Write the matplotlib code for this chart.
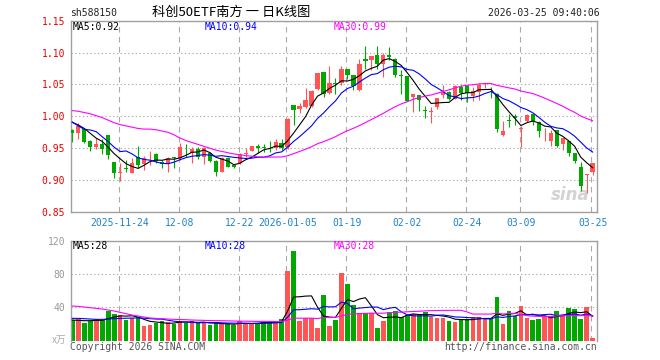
import numpy as np
import pandas as pd
import matplotlib
matplotlib.use('Agg')
import matplotlib.pyplot as plt

# ---------------- data ----------------
opens = [0.979, 0.9745, 0.980, 0.9615, 0.9516, 0.9568, 0.9708, 0.9286, 0.9104, 0.9193,
         0.9114, 0.937, 0.9245, 0.9406, 0.941, 0.9286, 0.925, 0.936, 0.9343, 0.951,
         0.9422, 0.949, 0.936, 0.942, 0.930, 0.9135, 0.9354, 0.924, 0.9266, 0.941,
         0.9463, 0.953, 0.9516, 0.9526, 0.950, 0.9578, 0.9526, 1.0172, 1.0115, 1.015,
         1.0167, 1.0422, 1.0688, 1.037, 1.0516, 1.0516, 1.074, 1.0646, 1.0412, 1.0906,
         1.0878, 1.0958, 1.0828, 1.0958, 1.0906, 1.0646, 1.063, 1.0297, 1.0333, 1.010,
         1.007, 1.014, 1.0338, 1.0385, 1.0271, 1.0464, 1.0474, 1.0318, 1.0386, 1.0485,
         1.038, 1.035, 0.9708, 0.9945, 1.0005, 0.980, 0.9927, 1.0036, 0.9917, 0.9718,
         0.962, 0.9786, 0.9568, 0.9615, 0.9422, 0.9213, 0.9083, 0.912]
highs = [0.980, 0.989, 0.981, 0.963, 0.9667, 0.964, 0.971, 0.929, 0.9265, 0.9317,
         0.934, 0.9536, 0.938, 0.9463, 0.942, 0.9317, 0.936, 0.937, 0.9589, 0.9568,
         0.9516, 0.9516, 0.9516, 0.9448, 0.931, 0.937, 0.936, 0.925, 0.942, 0.950,
         0.954, 0.9573, 0.9573, 0.9615, 0.9646, 0.9646, 0.997, 1.0172, 1.0203, 1.0448,
         1.041, 1.0682, 1.069, 1.0787, 1.0594, 1.0787, 1.0745, 1.065, 1.0896, 1.110,
         1.095, 1.110, 1.0995, 1.108, 1.092, 1.0724, 1.064, 1.035, 1.034, 1.016,
         1.015, 1.029, 1.0495, 1.039, 1.049, 1.049, 1.049, 1.0453, 1.0526, 1.0516,
         1.0464, 1.036, 0.9927, 1.0036, 1.0036, 0.9849, 1.003, 1.004, 0.993, 0.9812,
         0.9786, 0.979, 0.966, 0.962, 0.943, 0.928, 0.910, 0.927]
lows = [0.959, 0.9646, 0.9588, 0.9463, 0.949, 0.941, 0.9333, 0.9026, 0.898, 0.9135,
        0.9109, 0.919, 0.916, 0.924, 0.9276, 0.9187, 0.9125, 0.919, 0.9317, 0.937,
        0.927, 0.9333, 0.9255, 0.929, 0.9057, 0.9125, 0.9198, 0.9187, 0.925, 0.937,
        0.9458, 0.9432, 0.9437, 0.9448, 0.9474, 0.9474, 0.949, 0.9865, 1.006, 1.0125,
        1.0146, 1.0412, 1.0307, 1.035, 1.035, 1.049, 1.0578, 1.0412, 1.040, 1.0745,
        1.0734, 1.075, 1.061, 1.088, 1.061, 1.035, 1.024, 1.0073, 1.0083, 0.997,
        0.990, 1.012, 1.0286, 1.0255, 1.0266, 1.0255, 1.023, 1.0245, 1.0255, 1.0437,
        1.028, 0.976, 0.9693, 0.9838, 0.9865, 0.9515, 0.9917, 0.9865, 0.9682, 0.9614,
        0.954, 0.9526, 0.948, 0.938, 0.9265, 0.8823, 0.8797, 0.908]
closes = [0.974, 0.985, 0.9604, 0.9526, 0.9568, 0.9484, 0.939, 0.9104, 0.9125, 0.918,
          0.927, 0.924, 0.9354, 0.9411, 0.930, 0.925, 0.934, 0.934, 0.9515, 0.950,
          0.949, 0.936, 0.950, 0.9307, 0.9135, 0.9344, 0.9213, 0.9213, 0.9411, 0.942,
          0.9536, 0.951, 0.950, 0.9518, 0.9604, 0.950, 0.9964, 1.010, 1.0162, 1.0255,
          1.0396, 1.0672, 1.0344, 1.0526, 1.0505, 1.074, 1.0656, 1.0474, 1.0818, 1.087,
          1.0948, 1.0818, 1.0958, 1.0932, 1.0646, 1.064, 1.0245, 1.0349, 1.0255, 1.009,
          1.0073, 1.028, 1.0385, 1.0271, 1.0474, 1.036, 1.036, 1.0401, 1.049, 1.049,
          1.0375, 0.9797, 0.9771, 0.993, 0.997, 0.981, 1.002, 0.9906, 0.9776, 0.972,
          0.9745, 0.9536, 0.9656, 0.9422, 0.9292, 0.890, 0.9094, 0.9265]
volumes = [24.8, 25.6, 21.6, 24.0, 26.0, 24.8, 35.6, 31.6, 30.8, 24.8,
           26.8, 28.0, 17.6, 18.8, 20.8, 23.6, 22.8, 20.0, 24.0, 21.6,
           23.6, 20.8, 21.6, 18.8, 20.8, 20.8, 19.6, 18.8, 23.6, 20.8,
           20.8, 20.8, 22.8, 22.8, 22.8, 25.6, 83.6, 107.6, 24.0, 26.8,
           26.8, 15.6, 54.8, 17.6, 24.8, 81.6, 68.0, 42.8, 32.8, 32.8,
           32.8, 15.6, 24.0, 34.8, 35.6, 28.0, 30.8, 31.6, 30.8, 34.8,
           28.0, 26.8, 27.6, 24.0, 22.8, 25.6, 25.6, 28.8, 28.0, 25.6,
           25.6, 52.8, 20.0, 35.6, 29.6, 41.6, 27.6, 24.8, 26.0, 29.6,
           29.6, 35.6, 29.6, 39.6, 37.6, 26.0, 40.8, 3.6]

# moving-average values before enough history exists in the window
price_ma5_head = [0.9906, 0.9865, 0.981, 0.9734]
price_ma10_head = [0.991, 0.985, 0.9797, 0.9786, 0.976, 0.968, 0.9604, 0.9516, 0.9448]
price_ma30_head = [1.009, 1.008, 1.006, 1.004, 1.001, 0.998, 0.994, 0.990, 0.987, 0.985,
                   0.983, 0.981, 0.980, 0.980, 0.979, 0.977, 0.975, 0.971, 0.966, 0.962,
                   0.959, 0.956, 0.953, 0.950, 0.947, 0.945, 0.943, 0.941, 0.940]
vol_ma5_head = [24.8, 24.4, 24.0, 24.0]
vol_ma10_head = [26.8, 26.8, 26.4, 26.0, 25.6, 25.6, 26.0, 26.4, 26.8]
vol_ma30_head = [41.6, 41.2, 40.4, 39.6, 38.8, 38.0, 36.8, 35.6, 34.0, 32.4,
                 30.8, 29.6, 28.4, 27.2, 26.8, 26.4, 26.0, 25.6, 25.4, 25.2,
                 24.8, 24.6, 24.4, 24.2, 24.0, 24.0, 23.8, 23.6, 23.5]

tick_idx = [8, 18, 28, 36, 46, 56, 66, 75, 87]
tick_labels = ['2025-11-24', '12-08', '12-22', '2026-01-05', '01-19', '02-02',
               '02-24', '03-09', '03-25']
price_ticks = [0.85, 0.90, 0.95, 1.00, 1.05, 1.10, 1.15]
vol_ticks = [40, 80, 120]

symbol = 'sh588150'
title = '科创50ETF南方 一 日K线图'
timestamp = '2026-03-25 09:40:06'
price_ma_labels = ['MA5:0.92', 'MA10:0.94', 'MA30:0.99']
vol_ma_labels = ['MA5:28', 'MA10:28', 'MA30:28']

# ---------------- helpers ----------------
def moving(series, n, head):
    s = pd.Series(series).rolling(n).mean().to_numpy()
    s[:len(head)] = head
    return s

RED = '#ff5555'
GREEN = '#00a800'
GRID = '#aaaaaa'
FRAME = '#a0a0a0'
MA_COLORS = ['black', '#0000ff', '#ff00ff']
MONO = 'DejaVu Sans Mono'

W, H = 660, 360
fig = plt.figure(figsize=(W / 100, H / 100), dpi=100)
fig.patch.set_facecolor('white')

def fx(px):
    return px / W

def fy(py):
    return 1 - py / H

left, right = 70.7, 597.0
ax = fig.add_axes([fx(left), fy(212.0), fx(right - left), fy(20.7) - fy(212.0)])
axv = fig.add_axes([fx(left), fy(340.7), fx(right - left), fy(240.7) - fy(340.7)])

n = len(closes)
x = np.arange(n)
o = np.array(opens); c = np.array(closes); h = np.array(highs); l = np.array(lows)
up = c > o
colors = np.where(up, RED, GREEN)

xlim = (-0.27, n - 0.27)

# ---------- price panel ----------
for yv in price_ticks[1:-1]:
    ax.axhline(yv, color=GRID, lw=0.8, ls=(0, (1.2, 2.2)), zorder=0)
for t in tick_idx:
    ax.axvline(t - 0.2, color=GRID, lw=0.8, ls=(0, (5, 4)), zorder=0)

ax.vlines(x, l, h, colors=colors, lw=0.8, zorder=2)
body_h = np.maximum(np.abs(c - o), 0.0009)
ax.bar(x, body_h, bottom=np.minimum(o, c), width=0.72, color=colors, linewidth=0, zorder=3)

ma_sets = [(5, price_ma5_head), (10, price_ma10_head), (30, price_ma30_head)]
for (win, head), col in zip(ma_sets, MA_COLORS):
    ax.plot(x, moving(closes, win, head), color=col, lw=0.8, zorder=4)

ax.set_xlim(*xlim)
ax.set_ylim(0.85, 1.15)
ax.set_yticks(price_ticks)
ax.set_yticklabels([f'{v:.2f}' for v in price_ticks], color='#ee0000',
                   fontfamily=MONO, fontsize=7)
ax.set_xticks(tick_idx)
ax.set_xticklabels(tick_labels, color='#1e82d2', fontfamily=MONO, fontsize=7)
ax.tick_params(axis='both', length=0)
ax.tick_params(axis='y', pad=4)
ax.tick_params(axis='x', pad=4)
for sp in ax.spines.values():
    sp.set_color(FRAME)
    sp.set_linewidth(1.0)

# sina watermark
ax.text(0.985, 0.04, 'sina', transform=ax.transAxes, ha='right', va='bottom',
        fontsize=12, fontweight='bold', style='italic', color='#c8c8c8', alpha=0.8,
        zorder=1)

# ---------- volume panel ----------
for yv in [40, 80]:
    axv.axhline(yv, color=GRID, lw=0.8, ls=(0, (1.2, 2.2)), zorder=0)
for t in tick_idx:
    axv.axvline(t - 0.2, color=GRID, lw=0.8, ls=(0, (5, 4)), zorder=0)

axv.bar(x, volumes, width=0.78, color=colors, linewidth=0, zorder=2)
vma_sets = [(5, vol_ma5_head), (10, vol_ma10_head), (30, vol_ma30_head)]
for (win, head), col in zip(vma_sets, MA_COLORS):
    axv.plot(x, moving(volumes, win, head), color=col, lw=0.8, zorder=3)

axv.set_xlim(*xlim)
axv.set_ylim(0, 120)
axv.set_yticks(vol_ticks)
axv.set_yticklabels([str(v) for v in vol_ticks], color='#999999',
                    fontfamily=MONO, fontsize=7)
axv.set_xticks([])
axv.tick_params(axis='both', length=0, pad=4)
for sp in axv.spines.values():
    sp.set_color(FRAME)
    sp.set_linewidth(1.0)
axv.spines['bottom'].set_visible(False)

# ---------- texts ----------
fig.text(fx(70), fy(12.7), symbol, fontfamily=MONO, fontsize=7, color='#222222',
         ha='left', va='center')
fig.text(fx(152), fy(12.7), title, fontfamily=['Noto Sans CJK SC', 'DejaVu Sans'],
         fontsize=9.5, color='black', ha='left', va='center')
fig.text(fx(600), fy(12.7), timestamp, fontfamily=MONO, fontsize=7, color='#222222',
         ha='right', va='center')

for lab, col, px in zip(price_ma_labels, MA_COLORS, [73, 205, 334]):
    fig.text(fx(px), fy(26.7), lab, fontfamily=MONO, fontsize=7, color=col,
             ha='left', va='center')
for lab, col, px in zip(vol_ma_labels, MA_COLORS, [73, 205, 334]):
    fig.text(fx(px), fy(246), lab, fontfamily=MONO, fontsize=7, color=col,
             ha='left', va='center')

fig.text(fx(66), fy(340), 'x万', fontfamily=['Noto Sans CJK SC', 'DejaVu Sans'],
         fontsize=7, color='#aaaaaa', ha='right', va='center')
fig.text(fx(70), fy(347), 'Copyright 2026 SINA.COM', fontfamily=MONO, fontsize=7,
         color='#555555', ha='left', va='center')
fig.text(fx(597), fy(347), 'http://finance.sina.com.cn', fontfamily=MONO, fontsize=7,
         color='#555555', ha='right', va='center')

fig.savefig('out.png', dpi=100, facecolor='white')
